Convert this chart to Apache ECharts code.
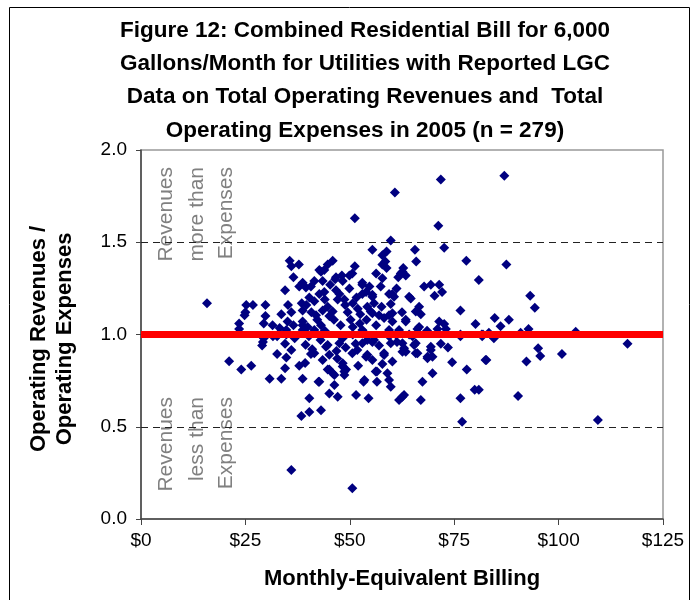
<!DOCTYPE html>
<html>
<head>
<meta charset="utf-8">
<title>Figure 12</title>
<script src="https://cdn.jsdelivr.net/npm/echarts@6/dist/echarts.min.js"></script>
<style>
  html, body { margin: 0; padding: 0; background: #fff; }
  #main { width: 697px; height: 600px; }
</style>
</head>
<body>
<div id="main"></div>
<script>
// axis ticks
var xTicks = [0, 25, 50, 75, 100, 125];
var yTicks = [0, 0.5, 1.0, 1.5, 2.0];
var breakEven = 1.0;
var bandLines = [0.5, 1.5];

// [monthly bill $, revenues / expenses]
var lowBillPoints = [
  [15.8,1.17],[21.1,0.855],[24,0.81],[26.4,0.83],[23.5,1.06],[23.5,1.03],[25.2,1.16],[26.8,1.16],
  [25,1.12],[24.8,1.105],[29.8,1.16],[29.8,1.10],[29.4,1.06],[29.4,0.98],[29.2,0.96],[29,0.94],
  [31.6,0.99],[31.5,1.05],[32.6,0.894],[34.8,0.876],[36,0.916],[34.5,0.95],[32.6,0.99],[34.5,0.817],
  [30.8,0.76],[33.6,0.76],[38.7,0.76],[37.9,0.83],[39.3,0.845],[39.4,0.945],[41,0.92],[40.3,0.654],
  [38.4,0.558],[40.3,0.58],[36,0.266],[36.8,0.98],[34.8,1.0],[32.8,1.0],[33.2,1.035],[34.8,1.025],
  [35.1,1.07],[36.5,1.05],[38.7,1.05],[38.7,1.025],[38.7,1.07],[39.9,1.04],[33.6,1.11],[36,1.12],
  [38.7,1.13],[35.2,1.16],[38.5,1.17],[39.6,1.16],[35.6,1.40],[37.8,1.38],[36,1.37],[36.5,1.31],
  [34.5,1.24],[37.9,1.26],[39.5,1.255],[38.7,1.28],[40.3,1.20]
];
var coreAbovePoints = [
  [41.5,1.29],[40.7,1.26],[42.7,1.35],[43.9,1.35],[43.1,1.34],[44.7,1.38],[45.9,1.40],[46.7,1.31],
  [46.5,1.30],[43.5,1.29],[45.3,1.27],[48.3,1.29],[48.1,1.32],[49.9,1.32],[50.6,1.33],[51.2,1.37],
  [49.9,1.25],[46.7,1.24],[47.5,1.22],[43.9,1.23],[42.7,1.22],[41.5,1.18],[44,1.19],[47.1,1.19],
  [48.7,1.19],[44.7,1.15],[43.5,1.13],[45.9,1.125],[45.1,1.10],[41.9,1.105],[40.8,1.12],[42.2,1.08],
  [43.1,1.05],[41.5,1.025],[44,1.02],[46.2,1.08],[47.8,1.05],[48.9,1.16],[49.5,1.12],[50.2,1.08],
  [50.7,1.17],[51.9,1.14],[51.6,1.20],[52.5,1.11],[52.4,1.06],[50.7,1.04],[53,1.025],[54,1.08],
  [55,1.125],[55.4,1.115],[57,1.105],[57.6,1.15],[56.3,1.05],[58.2,1.09],[59.4,1.105],[60.2,1.115],
  [60.2,1.07],[59.4,1.025],[61.8,1.025],[53,1.22],[53.9,1.23],[55.4,1.205],[55.4,1.215],[55.8,1.17],
  [54.2,1.15],[59.8,1.165],[59.4,1.22],[60.2,1.22],[60.6,1.205],[53,1.27],[53,1.28],[54.7,1.26],
  [57.4,1.26],[57.8,1.305],[56.3,1.33],[61.2,1.25],[61.6,1.31],[62.2,1.33],[62.6,1.34],[63.4,1.32],
  [62.8,1.36],[58.8,1.36],[58.5,1.395],[57.8,1.38],[57.8,1.43],[58.8,1.45],[55.4,1.46],[59.8,1.51],
  [51.2,1.63],[60.8,1.77],[62.5,1.12],[63.4,1.08],[63.4,1.07],[64.2,1.205],[64.6,1.195],[65.8,1.125],
  [66.6,1.15],[67,1.11],[66.6,1.04],[66.2,1.03],[65.6,1.46],[65.9,1.395],[67.8,1.26],[68.5,1.02]
];
var highBillPoints = [
  [69.4,1.27],[71.4,1.27],[70.3,1.21],[72.1,1.23],[71.2,1.59],[71.8,1.84],[72.6,1.47],[77.9,1.40],
  [76.5,1.13],[72.6,1.057],[71.4,1.07],[71,1.03],[73,1.03],[80.1,1.057],[76.5,1.0],[81.6,1.0],
  [80.9,1.295],[87,1.86],[87.5,1.38],[93.2,1.21],[94.3,1.145],[84.7,1.09],[86.1,1.045],[88.1,1.08],
  [92.8,1.03],[90.9,1.01],[104.1,1.015],[81.9,1.0],[83.3,1.01],[84.7,0.99],[81.7,0.99],[84.5,0.98],
  [116.5,0.95],[82.7,0.862],[92.3,0.853],[95.1,0.925],[95.6,0.884],[100.8,0.894],[90.3,0.667],
  [109.4,0.537],[80.9,0.70],[76.5,0.99],[71.8,0.95],[82.5,0.862],[78,0.81],[79.9,0.70],[76.5,0.654],
  [76.9,0.527],[73.5,0.93],[74.5,0.85]
];
var coreBelowPoints = [
  [42.5,0.744],[43.5,0.862],[44.7,0.943],[45.1,0.81],[46.3,0.78],[45.1,0.68],[46.3,0.726],[40.7,0.894],
  [43.1,0.59],[40.2,0.99],[43,0.97],[41.5,0.898],[45.1,0.89],[44.3,0.934],[44.7,0.81],[42.7,0.744],
  [45.9,0.79],[47.1,0.663],[47,0.87],[46.8,0.91],[47.5,0.952],[48.3,0.98],[48.3,0.99],[49,0.93],
  [48.3,0.844],[48.3,0.826],[49.1,0.81],[48.7,0.78],[48.7,0.80],[50.6,0.898],[50.7,1.0],[51.8,0.916],
  [51.4,0.95],[53,0.952],[53.5,1.01],[54.2,0.97],[55.8,0.97],[55.4,0.96],[54.2,0.89],[53.9,0.88],
  [55.4,0.862],[52,0.83],[53.5,0.753],[53.3,0.744],[56.2,0.80],[56.5,0.80],[56.5,0.744],[54.5,0.654],
  [51.5,0.672],[50.6,0.166],[57.8,0.84],[57,0.94],[58.2,0.898],[58.2,0.889],[59.4,0.99],[59.4,1.01],
  [59.8,0.952],[60.2,0.853],[59,0.79],[59.4,0.753],[59.8,0.717],[61,1.0],[61.3,0.96],[62.6,0.952],
  [62.6,0.907],[63,0.925],[63.4,0.907],[64.2,1.0],[65,0.99],[65.4,0.943],[65.8,0.952],[65.8,0.898],
  [66.2,0.898],[68.6,0.88],[68.6,0.871],[69.4,0.916],[69.4,0.934],[69.8,0.88],[69.8,0.79],[67.4,0.744],
  [67,0.645],[61.8,0.645],[62.6,0.663],[63,0.672]
];

var points = lowBillPoints.concat(coreAbovePoints, highBillPoints, coreBelowPoints);

var chart = echarts.init(document.getElementById('main'), null, { renderer: 'canvas' });

var noteFont = '21px "Liberation Sans"';
var titleFont = 'bold 22px "Liberation Sans"';

function note(x, y, txt) {
  return {
    type: 'text', x: x, y: y, rotation: Math.PI / 2, silent: true,
    style: { text: txt, fill: '#808080', font: noteFont, textAlign: 'right', textVerticalAlign: 'middle' }
  };
}

var option = {
  animation: false,
  backgroundColor: '#fff',
  title: {
    text: 'Figure 12: Combined Residential Bill for 6,000\nGallons/Month for Utilities with Reported LGC\nData on Total Operating Revenues and  Total\nOperating Expenses in 2005 (n = 279)',
    left: 360,
    top: 9,
    textAlign: 'center',
    textStyle: {
      fontFamily: 'Liberation Sans',
      fontSize: 22.5,
      fontWeight: 'bold',
      color: '#000',
      lineHeight: 33.3
    }
  },
  grid: {
    left: 141,
    right: 34,
    top: 150,
    bottom: 81,
    show: true,
    borderColor: '#999',
    borderWidth: 1.5
  },
  xAxis: {
    type: 'value',
    min: xTicks[0],
    max: xTicks[xTicks.length - 1],
    interval: 25,
    name: 'Monthly-Equivalent Billing',
    nameLocation: 'middle',
    nameGap: 49,
    nameTextStyle: { fontFamily: 'Liberation Sans', fontSize: 22, fontWeight: 'bold', color: '#000' },
    axisLine: { show: true, lineStyle: { color: '#444', width: 1.5 } },
    axisTick: { show: true, length: 6, lineStyle: { color: '#444' } },
    axisLabel: {
      margin: 12,
      fontFamily: 'Liberation Sans',
      fontSize: 19,
      color: '#000',
      formatter: function (v) { return '$' + v; }
    },
    splitLine: { show: false }
  },
  yAxis: {
    type: 'value',
    min: yTicks[0],
    max: yTicks[yTicks.length - 1],
    interval: 0.5,
    axisLine: { show: true, lineStyle: { color: '#444', width: 1.5 } },
    axisTick: { show: true, length: 5, lineStyle: { color: '#444' } },
    axisLabel: {
      margin: 14,
      fontFamily: 'Liberation Sans',
      fontSize: 19,
      color: '#000',
      formatter: function (v) { return v.toFixed(1); }
    },
    splitLine: { show: false }
  },
  graphic: [
    // outer frame
    { type: 'rect', shape: { x: 9.5, y: 7.5, width: 680, height: 600 }, style: { fill: null, stroke: '#000', lineWidth: 1 }, silent: true },
    // y axis title, two lines
    { type: 'text', x: 39, y: 339, rotation: Math.PI / 2,
      style: { text: 'Operating Revenues /', fill: '#000', font: titleFont, textAlign: 'center', textVerticalAlign: 'middle' } },
    { type: 'text', x: 65, y: 339, rotation: Math.PI / 2,
      style: { text: 'Operating Expenses', fill: '#000', font: titleFont, textAlign: 'center', textVerticalAlign: 'middle' } },
    // notes inside plot
    note(166, 167, 'Revenues'),
    note(197, 167, 'more than'),
    note(226, 167, 'Expenses'),
    note(166, 397, 'Revenues'),
    note(197, 397, 'less than'),
    note(226, 397, 'Expenses')
  ],
  series: [
    {
      name: 'bands',
      type: 'line',
      data: [],
      markLine: {
        silent: true,
        symbol: 'none',
        label: { show: false },
        lineStyle: { color: '#222', width: 1, type: [7, 5] },
        data: bandLines.map(function (v) { return { yAxis: v }; })
      },
      z: 1
    },
    {
      name: 'break even',
      type: 'line',
      data: [],
      markLine: {
        silent: true,
        symbol: 'none',
        label: { show: false },
        lineStyle: { color: '#ff0000', width: 7, type: 'solid' },
        data: [{ yAxis: breakEven }]
      },
      z: 2
    },
    {
      name: 'utilities',
      type: 'scatter',
      symbol: 'diamond',
      symbolSize: 10,
      itemStyle: { color: '#000080', opacity: 1 },
      data: points,
      z: 3
    }
  ]
};
chart.setOption(option);
</script>
</body>
</html>
